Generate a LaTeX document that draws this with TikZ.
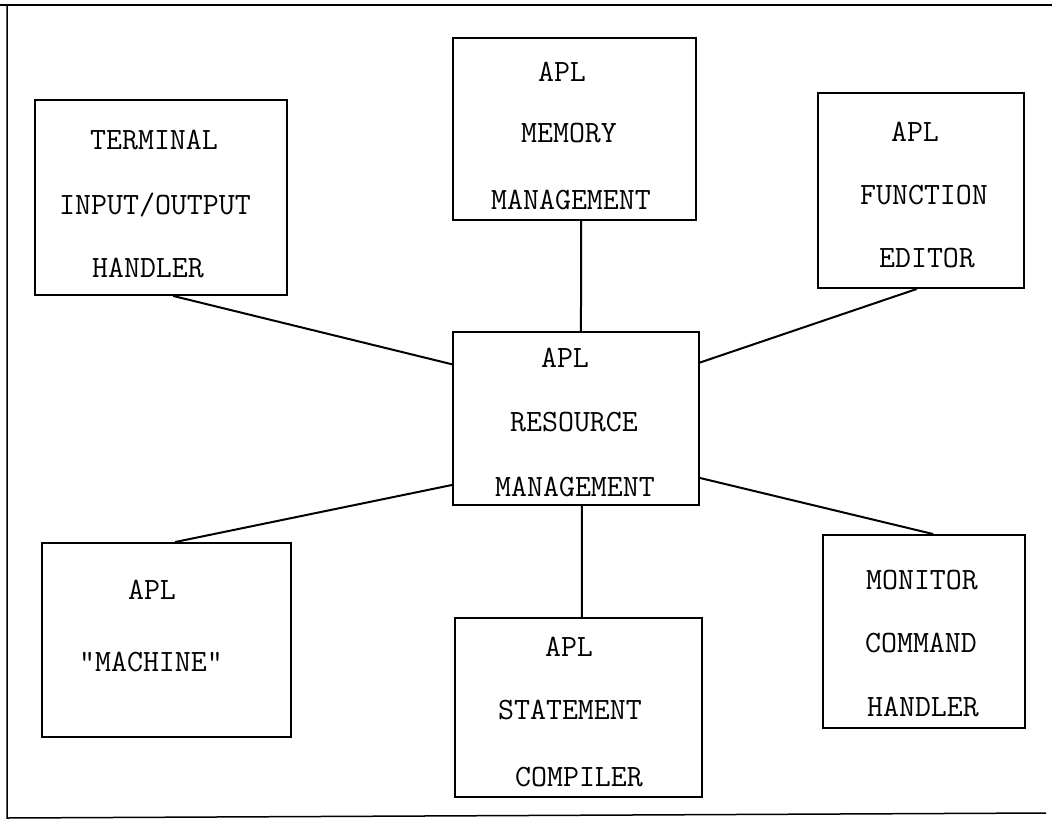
\documentclass[tikz,border=0pt]{standalone}
\usepackage{fontspec}
\usetikzlibrary{calc}
\newcommand\labelfont{\ttfamily\fontsize{31}{32}\selectfont}
\begin{document}
\begin{tikzpicture}[x=1pt,y=-1pt,
  box/.style={draw, rectangle, line width=1.9pt, inner sep=0pt},
  link/.style={line width=2pt},
  lbl/.style={font=\labelfont, inner sep=0pt, anchor=base},
  frameline/.style={line width=1.5pt}]
\useasboundingbox (0,0) rectangle (1052,827);

% outer frame (open on the right)
\coordinate (ftl) at (0,5);
\coordinate (ftr) at (1052,5);
\coordinate (fl) at (7,5);
\coordinate (fbl) at (7,818);
\coordinate (fbr) at (1046,813);
\draw[frameline] (ftl) -- (ftr);
\draw[frameline] (fl) -- (fbl) -- (fbr);

% modules
\node[box, minimum width=252pt, minimum height=195pt] (term) at (161,197.5) {};
\node[box, minimum width=243pt, minimum height=182pt] (mem)  at (574.5,129) {};
\node[box, minimum width=206pt, minimum height=195pt] (func) at (921,190.5) {};
\node[box, minimum width=246pt, minimum height=173pt] (res)  at (576,418.5) {};
\node[box, minimum width=249pt, minimum height=194pt] (mach) at (166.5,640) {};
\node[box, minimum width=247pt, minimum height=179pt] (stat) at (578.5,707.5) {};
\node[box, minimum width=202pt, minimum height=193pt] (mon)  at (924,631.5) {};

% labels
\node[lbl] (term1) at (154,149) {TERMINAL};
\node[lbl] (term2) at (155,214) {INPUT/OUTPUT};
\node[lbl] (term3) at (148,277) {HANDLER};

\node[lbl] (mem1) at (562,81) {APL};
\node[lbl] (mem2) at (569,142) {MEMORY};
\node[lbl] (mem3) at (571,209) {MANAGEMENT};

\node[lbl] (func1) at (915,141) {APL};
\node[lbl] (func2) at (924,204) {FUNCTION};
\node[lbl] (func3) at (927,267) {EDITOR};

\node[lbl] (res1) at (565,367) {APL};
\node[lbl] (res2) at (574,431) {RESOURCE};
\node[lbl] (res3) at (575,496) {MANAGEMENT};

\node[lbl] (mach1) at (152,599) {APL};
\node[lbl] (mach2) at (151,671) {"MACHINE"};

\node[lbl] (stat1) at (569,656) {APL};
\node[lbl] (stat2) at (570,719) {STATEMENT};
\node[lbl] (stat3) at (579,786) {COMPILER};

\node[lbl] (mon1) at (922,589) {MONITOR};
\node[lbl] (mon2) at (921,652) {COMMAND};
\node[lbl] (mon3) at (923,716) {HANDLER};

% connections to the resource manager
\draw[link] ($(term.south west)!0.548!(term.south east)$) -- ($(res.north west)!0.19!(res.south west)$);
\draw[link] ($(mem.south west)!0.527!(mem.south east)$) -- ($(res.north west)!0.520!(res.north east)$);
\draw[link] ($(func.south west)!0.48!(func.south east)$) -- ($(res.north east)!0.18!(res.south east)$);
\draw[link] ($(res.north west)!0.88!(res.south west)$) -- ($(mach.north west)!0.534!(mach.north east)$);
\draw[link] ($(res.south west)!0.524!(res.south east)$) -- ($(stat.north west)!0.514!(stat.north east)$);
\draw[link] ($(res.north east)!0.84!(res.south east)$) -- ($(mon.north west)!0.545!(mon.north east)$);
\end{tikzpicture}
\end{document}
